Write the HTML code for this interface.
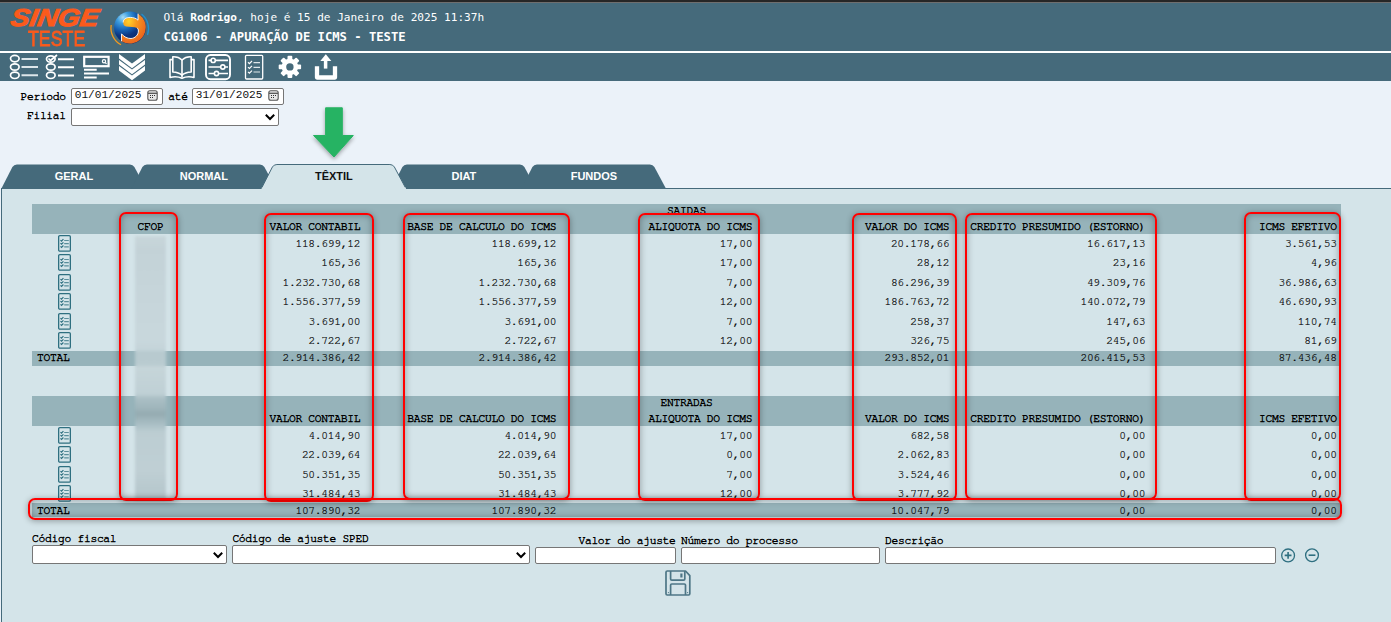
<!DOCTYPE html>
<html lang="pt-BR"><head><meta charset="utf-8"><title>CG1006 - Apuração de ICMS</title>
<style>
html,body{margin:0;padding:0;}
body{width:1391px;height:622px;overflow:hidden;position:relative;background:#ebf2f9;}
.a{position:absolute;}
.t{position:absolute;white-space:pre;}
.r{-webkit-text-stroke:0.2px #000;}
.b{-webkit-text-stroke:0.42px #000;}
.rb{border:2.4px solid #f00;border-radius:7px;box-sizing:border-box;box-shadow:0 1px 6px rgba(0,0,0,.33), inset 0 0 7px rgba(0,0,0,.32);}
</style></head><body>
<div class="a" style="left:0px;top:0px;width:1391px;height:2px;background:#262626"></div>
<div class="a" style="left:0px;top:2px;width:1391px;height:1px;background:#6e6e6e"></div>
<div class="a" style="left:0px;top:3px;width:1391px;height:48px;background:#456a7b"></div>
<div class="a" style="left:0px;top:51px;width:1391px;height:2px;background:#fff"></div>
<div class="a" style="left:0px;top:53px;width:1391px;height:28px;background:#456a7b"></div>
<div class="t" style="left:13px;top:6px;font:italic bold 24.5px/24.5px 'Liberation Sans', Arial, sans-serif;color:#fb5a1c;-webkit-text-stroke:1px #fb5a1c;transform-origin:0 0;transform:scaleX(1.152) skewX(-8deg)">SINGE</div>
<div class="t" style="left:27.5px;top:27.5px;font:normal 22.5px/22.5px 'Liberation Sans', Arial, sans-serif;color:#fb5a1c;-webkit-text-stroke:0.8px #fb5a1c;transform-origin:0 0;transform:scaleX(0.79)">TESTE</div>
<svg class="a" style="left:106px;top:8px" width="46" height="40" viewBox="106 8 46 40">
<defs>
<radialGradient id="gb" cx="0.28" cy="0.18" r="0.85"><stop offset="0" stop-color="#a6dcf6"/><stop offset="0.22" stop-color="#3d9ddf"/><stop offset="0.48" stop-color="#1660b2"/><stop offset="0.68" stop-color="#0d3580"/><stop offset="1" stop-color="#0a2766"/></radialGradient>
<radialGradient id="go" cx="0.3" cy="0.25" r="0.9"><stop offset="0" stop-color="#ffd22c"/><stop offset="0.35" stop-color="#f7991f"/><stop offset="0.8" stop-color="#ec6a1e"/><stop offset="1" stop-color="#e5521b"/></radialGradient>
</defs>
<circle cx="130" cy="27.6" r="16" fill="url(#gb)"/>
<path d="M138 13.7 A16 16 0 1 1 121.5 41.2 L121.5 33.8 C124 37 127.5 38.6 131 38.5 C135 38.3 138.4 35 138.4 31 C138.4 28.6 137 27.6 134.8 27.2 L126.3 26.4 C124.2 26.2 123.2 24.4 123.2 22.4 C123.2 19 126.2 17.4 130.2 17.4 C133.8 17.4 136.6 18.6 138 20.2 Z" fill="url(#go)"/>
<path d="M138 13.7 V20.2 C136.6 18.6 133.8 17.4 130.2 17.4 C126.2 17.4 123.2 19 123.2 22.4 M121.5 41.2 L121.5 33.8 C124 37 127.5 38.6 131 38.5 C135 38.3 138.4 35 138.4 31 C138.4 29.5 138 28.6 137.2 28" fill="none" stroke="#fff" stroke-width="0.9"/>
<path d="M111.2 25 A19 19 0 0 0 121 44.8" fill="none" stroke="#f39a1e" stroke-width="1.3"/>
<path d="M141.5 14 A19 19 0 0 1 147.5 35" fill="none" stroke="#1f8fd0" stroke-width="1.3"/>
</svg>
<div class="t" style="top:11.95px;font:normal 11.1px/11.1px 'DejaVu Sans Mono', 'Liberation Mono', monospace;color:#fff;left:163.5px;">Olá <b>Rodrigo</b>, hoje é 15 de Janeiro de 2025 11:37h</div>
<div class="t" style="top:30.90px;font:bold 12.2px/12.2px 'DejaVu Sans Mono', 'Liberation Mono', monospace;color:#fff;left:163.5px;">CG1006 - APURAÇÃO DE ICMS - TESTE</div>
<svg class="a" style="left:0;top:53px" width="350" height="28" viewBox="0 53 350 28" fill="none" stroke="#fff">
<g stroke-width="1.7">
<ellipse cx="14.8" cy="58.6" rx="4.3" ry="3.2"/><ellipse cx="14.8" cy="67" rx="4.3" ry="3.2"/><ellipse cx="14.8" cy="75.3" rx="4.3" ry="3.2"/>
</g>
<g stroke-width="2" stroke="#dde6ea"><path d="M21.5 58.9H38M21.5 67H38M21.5 75.3H38"/></g>
<g stroke-width="1.7">
<ellipse cx="50.8" cy="59" rx="4.3" ry="3.2"/><ellipse cx="50.8" cy="67" rx="4.3" ry="3.2"/><ellipse cx="50.8" cy="75.3" rx="4.3" ry="3.2"/>
<path d="M48.5 58.5l2 2 6.5-5.5"/>
</g>
<g stroke-width="2"><path d="M58 59.2H74M58 67.2H74M58 75.5H74"/></g>
<rect x="84.2" y="56.8" width="24.4" height="9.4" stroke-width="2.2"/>
<circle cx="104" cy="61.3" r="1.6" stroke-width="1.2"/><path d="M105.2 62.5l1.3 1.3" stroke-width="1.2"/>
<g stroke-width="2"><path d="M84 69.8H96.7M84 73.6H109M84 77.5H96.7"/></g>
<g fill="#fff" stroke="none">
<path d="M119 54L132 63.6L145 54V58.6L132 68.2L119 58.6Z"/>
<path d="M119 60L132 69.6L145 60V64.6L132 74.2L119 64.6Z"/>
<path d="M119 66L132 75.6L145 66V70.6L132 80.2L119 70.6Z"/>
</g>
<!-- book -->
<g stroke-width="1.6" stroke-linejoin="round">
<path d="M182 60 C179.5 57.6 176 56.6 172.8 56.8 V72 C176.5 72.2 179.8 73.2 182 75.2 C184.2 73.2 187.5 72.2 191.2 72 V56.8 C188 56.6 184.5 57.6 182 60 Z"/>
<path d="M182 60 V77.6"/>
<path d="M172.8 59.6 H170 V77.4 C174.5 76.2 178.5 76.6 182 78.2 C185.5 76.6 189.5 76.2 194 77.4 V59.6 H191.2"/>
</g>
<!-- sliders -->
<rect x="206" y="55" width="24" height="24.2" rx="4.5" stroke-width="1.9"/>
<g stroke-width="1.6"><path d="M208.5 60.4H228M208.5 67H228M208.5 73.5H228"/></g>
<g fill="#466a7b" stroke-width="1.6"><circle cx="213.2" cy="60.4" r="2.1"/><circle cx="222.8" cy="67" r="2.1"/><circle cx="216.5" cy="73.5" r="2.1"/></g>
<!-- checklist -->
<rect x="245.5" y="55.3" width="17.2" height="23.7" rx="1" stroke-width="1.3"/>
<g stroke-width="1.2"><path d="M248 62.3l1.4 1.3 2.6-2.6M248 67.1l1.4 1.3 2.6-2.6M248 71.9l1.4 1.3 2.6-2.6"/></g>
<g stroke-width="1.2" stroke="#dfe7ea"><path d="M253.5 62.6H260M253.5 67.3H260M253.5 72H260"/></g>
<!-- gear -->
<g fill="#fff" stroke="none" transform="translate(289.9 66.9)"><rect x="-2.4" y="-11.2" width="4.8" height="6" rx="1" transform="rotate(0)"/><rect x="-2.4" y="-11.2" width="4.8" height="6" rx="1" transform="rotate(45)"/><rect x="-2.4" y="-11.2" width="4.8" height="6" rx="1" transform="rotate(90)"/><rect x="-2.4" y="-11.2" width="4.8" height="6" rx="1" transform="rotate(135)"/><rect x="-2.4" y="-11.2" width="4.8" height="6" rx="1" transform="rotate(180)"/><rect x="-2.4" y="-11.2" width="4.8" height="6" rx="1" transform="rotate(225)"/><rect x="-2.4" y="-11.2" width="4.8" height="6" rx="1" transform="rotate(270)"/><rect x="-2.4" y="-11.2" width="4.8" height="6" rx="1" transform="rotate(315)"/><circle r="8.2"/></g>
<circle cx="289.9" cy="66.9" r="3.7" fill="#466a7b" stroke="none"/>
<!-- upload -->
<path d="M317 66.3 V77.5 H335 V66.3" stroke-width="4.3" stroke-linejoin="round"/>
<path d="M325.6 68.6 V59" stroke-width="3.5"/>
<path fill="#fff" stroke="none" d="M325.8 54.3 L331.3 60.9 H320.3 Z"/>
</svg>
<div class="t b" style="top:90.85px;font:normal 11.3px/11.3px FreeMono, 'Liberation Mono', monospace;color:#000;right:1325.2px;text-align:right;letter-spacing:-0.30px;">Periodo</div>
<div class="t b" style="top:109.85px;font:normal 11.3px/11.3px FreeMono, 'Liberation Mono', monospace;color:#000;right:1325.2px;text-align:right;letter-spacing:-0.30px;">Filial</div>
<div class="t b" style="top:90.85px;font:normal 11.3px/11.3px FreeMono, 'Liberation Mono', monospace;color:#000;left:168.3px;letter-spacing:-0.30px;">até</div>
<div class="a" style="left:71px;top:88px;width:92px;height:17px;background:#fff;border:1px solid #767676;border-radius:2px;box-sizing:border-box"></div>
<div class="t" style="top:90.45px;font:normal 11.1px/11.1px 'Liberation Mono', 'DejaVu Sans Mono', monospace;color:#111;left:74.8px;">01/01/2025</div>
<svg class="a" style="left:146.5px;top:89.5px" width="11" height="11" viewBox="0 0 11 11"><rect x="0.8" y="0.8" width="9.4" height="9.4" rx="2" fill="#e8e8e8" stroke="#555" stroke-width="1.1"/><path d="M1 3.3H10" stroke="#555" stroke-width="1.3"/><g fill="#333"><rect x="3" y="5" width="1" height="1"/><rect x="5" y="5" width="1" height="1"/><rect x="7" y="5" width="1" height="1"/><rect x="3" y="7" width="1" height="1"/><rect x="5" y="7" width="1" height="1"/></g></svg>
<div class="a" style="left:192px;top:88px;width:92px;height:17px;background:#fff;border:1px solid #767676;border-radius:2px;box-sizing:border-box"></div>
<div class="t" style="top:90.45px;font:normal 11.1px/11.1px 'Liberation Mono', 'DejaVu Sans Mono', monospace;color:#111;left:195.8px;">31/01/2025</div>
<svg class="a" style="left:267.5px;top:89.5px" width="11" height="11" viewBox="0 0 11 11"><rect x="0.8" y="0.8" width="9.4" height="9.4" rx="2" fill="#e8e8e8" stroke="#555" stroke-width="1.1"/><path d="M1 3.3H10" stroke="#555" stroke-width="1.3"/><g fill="#333"><rect x="3" y="5" width="1" height="1"/><rect x="5" y="5" width="1" height="1"/><rect x="7" y="5" width="1" height="1"/><rect x="3" y="7" width="1" height="1"/><rect x="5" y="7" width="1" height="1"/></g></svg>
<div class="a" style="left:71px;top:108px;width:208px;height:18px;background:#fff;border:1px solid #767676;border-radius:2px;box-sizing:border-box"></div>
<svg class="a" style="left:263.5px;top:112.0px" width="12" height="10" viewBox="0 0 12 10"><path d="M1.8 2.8L6 7L10.2 2.8" fill="none" stroke="#000" stroke-width="2"/></svg>
<svg class="a" style="left:300px;top:100px" width="70" height="66" viewBox="300 100 70 66">
<defs><filter id="sh" x="-30%" y="-30%" width="160%" height="160%"><feGaussianBlur in="SourceAlpha" stdDeviation="2"/><feOffset dx="0" dy="1.5"/><feComponentTransfer><feFuncA type="linear" slope="0.35"/></feComponentTransfer><feMerge><feMergeNode/><feMergeNode in="SourceGraphic"/></feMerge></filter></defs>
<path filter="url(#sh)" fill="#27b363" stroke="#27b363" stroke-width="1" stroke-linejoin="round" d="M325.6 107.8 H342.3 V135.5 H353.3 L334 157 L313.5 135.5 H325.6 Z"/>
</svg>
<div class="a" style="left:0px;top:188px;width:1391px;height:434px;background:#d4e4e9;border-top:1px solid #456a7b;border-left:1px solid #456a7b;box-sizing:border-box;left:1px;width:1390px"></div>
<svg class="a" style="left:0;top:160px" width="700" height="32" viewBox="0 160 700 32"><path d="M1.4 188.5 L12.4 167 Q13.9 164.5 16.9 164.5 H129.9 Q132.9 164.5 134.4 167 L145.9 188.5 V189 H1.4 Z" fill="#456a7b"/><path d="M131.4 188.5 L142.4 167 Q143.9 164.5 146.9 164.5 H259.9 Q262.9 164.5 264.4 167 L275.9 188.5 V189 H131.4 Z" fill="#456a7b"/><path d="M391.4 188.5 L402.4 167 Q403.9 164.5 406.9 164.5 H519.9 Q522.9 164.5 524.4 167 L535.9 188.5 V189 H391.4 Z" fill="#456a7b"/><path d="M521.4 188.5 L532.4 167 Q533.9 164.5 536.9 164.5 H649.9 Q652.9 164.5 654.4 167 L665.9 188.5 V189 H521.4 Z" fill="#456a7b"/><path d="M261.4 188.5 L272.4 167 Q273.9 164.5 276.9 164.5 H389.9 Q392.9 164.5 394.4 167 L405.9 188.5 V189 H261.4 Z" fill="#d4e4e9"/><path d="M261.4 188.5 L272.4 167 Q273.9 164.5 276.9 164.5 H389.9 Q392.9 164.5 394.4 167 L405.9 188.5" fill="none" stroke="#456a7b" stroke-width="1"/><rect x="261.9" y="187.5" width="144" height="4" fill="#d4e4e9"/></svg>
<div class="t" style="top:170.50px;font:bold 11px/11px 'Liberation Sans', Arial, sans-serif;color:#fff;left:-226.1px;width:600px;text-align:center;">GERAL</div>
<div class="t" style="top:170.50px;font:bold 11px/11px 'Liberation Sans', Arial, sans-serif;color:#fff;left:-96.1px;width:600px;text-align:center;">NORMAL</div>
<div class="t" style="top:170.50px;font:bold 11px/11px 'Liberation Sans', Arial, sans-serif;color:#111;left:33.89999999999998px;width:600px;text-align:center;">TÊXTIL</div>
<div class="t" style="top:170.50px;font:bold 11px/11px 'Liberation Sans', Arial, sans-serif;color:#fff;left:163.89999999999998px;width:600px;text-align:center;">DIAT</div>
<div class="t" style="top:170.50px;font:bold 11px/11px 'Liberation Sans', Arial, sans-serif;color:#fff;left:293.9px;width:600px;text-align:center;">FUNDOS</div>
<div class="a" style="left:32px;top:204px;width:1309px;height:30px;background:#96b3ba"></div>
<div class="t b" style="top:204.85px;font:normal 11.3px/11.3px FreeMono, 'Liberation Mono', monospace;color:#000;left:386.5px;width:600px;text-align:center;letter-spacing:-0.30px;">SAIDAS</div>
<div class="t b" style="top:220.85px;font:normal 11.3px/11.3px FreeMono, 'Liberation Mono', monospace;color:#000;left:-149.5px;width:600px;text-align:center;letter-spacing:-0.30px;">CFOP</div>
<div class="t b" style="top:220.85px;font:normal 11.3px/11.3px FreeMono, 'Liberation Mono', monospace;color:#000;right:1030.8px;text-align:right;letter-spacing:-0.30px;">VALOR CONTABIL</div>
<div class="t b" style="top:220.85px;font:normal 11.3px/11.3px FreeMono, 'Liberation Mono', monospace;color:#000;right:834.8px;text-align:right;letter-spacing:-0.30px;">BASE DE CALCULO DO ICMS</div>
<div class="t b" style="top:220.85px;font:normal 11.3px/11.3px FreeMono, 'Liberation Mono', monospace;color:#000;right:638.8px;text-align:right;letter-spacing:-0.30px;">ALIQUOTA DO ICMS</div>
<div class="t b" style="top:220.85px;font:normal 11.3px/11.3px FreeMono, 'Liberation Mono', monospace;color:#000;right:441.79999999999995px;text-align:right;letter-spacing:-0.30px;">VALOR DO ICMS</div>
<div class="t b" style="top:220.85px;font:normal 11.3px/11.3px FreeMono, 'Liberation Mono', monospace;color:#000;right:245.79999999999995px;text-align:right;letter-spacing:-0.30px;">CREDITO PRESUMIDO (ESTORNO)</div>
<div class="t b" style="top:220.85px;font:normal 11.3px/11.3px FreeMono, 'Liberation Mono', monospace;color:#000;right:54.299999999999955px;text-align:right;letter-spacing:-0.30px;">ICMS EFETIVO</div>
<svg class="a" style="left:57px;top:235px" width="15" height="18" viewBox="0 0 15 18" fill="none"><rect x="1.65" y="0.65" width="11.7" height="15.5" rx="1.2" stroke="#2e6f80" stroke-width="1.3"/><g stroke="#2e6f80" stroke-width="1.2"><path d="M3.5 5.1l1 1 1.9-1.9M3.5 8.2l1 1 1.9-1.9M3.5 11.4l1 1 1.9-1.9"/></g><g stroke="#5a8e9b" stroke-width="1.2"><path d="M7.2 5.5H11.8M7.2 8.6H11.8M7.2 11.8H11.8"/></g></svg>
<div class="t r" style="top:237.85px;font:normal 11.3px/11.3px FreeMono, 'Liberation Mono', monospace;color:#000;right:1030.8px;text-align:right;letter-spacing:-0.30px;">118.699,12</div>
<div class="t r" style="top:237.85px;font:normal 11.3px/11.3px FreeMono, 'Liberation Mono', monospace;color:#000;right:834.8px;text-align:right;letter-spacing:-0.30px;">118.699,12</div>
<div class="t r" style="top:237.85px;font:normal 11.3px/11.3px FreeMono, 'Liberation Mono', monospace;color:#000;right:638.8px;text-align:right;letter-spacing:-0.30px;">17,00</div>
<div class="t r" style="top:237.85px;font:normal 11.3px/11.3px FreeMono, 'Liberation Mono', monospace;color:#000;right:441.79999999999995px;text-align:right;letter-spacing:-0.30px;">20.178,66</div>
<div class="t r" style="top:237.85px;font:normal 11.3px/11.3px FreeMono, 'Liberation Mono', monospace;color:#000;right:245.79999999999995px;text-align:right;letter-spacing:-0.30px;">16.617,13</div>
<div class="t r" style="top:237.85px;font:normal 11.3px/11.3px FreeMono, 'Liberation Mono', monospace;color:#000;right:54.299999999999955px;text-align:right;letter-spacing:-0.30px;">3.561,53</div>
<svg class="a" style="left:57px;top:254px" width="15" height="18" viewBox="0 0 15 18" fill="none"><rect x="1.65" y="0.65" width="11.7" height="15.5" rx="1.2" stroke="#2e6f80" stroke-width="1.3"/><g stroke="#2e6f80" stroke-width="1.2"><path d="M3.5 5.1l1 1 1.9-1.9M3.5 8.2l1 1 1.9-1.9M3.5 11.4l1 1 1.9-1.9"/></g><g stroke="#5a8e9b" stroke-width="1.2"><path d="M7.2 5.5H11.8M7.2 8.6H11.8M7.2 11.8H11.8"/></g></svg>
<div class="t r" style="top:257.35px;font:normal 11.3px/11.3px FreeMono, 'Liberation Mono', monospace;color:#000;right:1030.8px;text-align:right;letter-spacing:-0.30px;">165,36</div>
<div class="t r" style="top:257.35px;font:normal 11.3px/11.3px FreeMono, 'Liberation Mono', monospace;color:#000;right:834.8px;text-align:right;letter-spacing:-0.30px;">165,36</div>
<div class="t r" style="top:257.35px;font:normal 11.3px/11.3px FreeMono, 'Liberation Mono', monospace;color:#000;right:638.8px;text-align:right;letter-spacing:-0.30px;">17,00</div>
<div class="t r" style="top:257.35px;font:normal 11.3px/11.3px FreeMono, 'Liberation Mono', monospace;color:#000;right:441.79999999999995px;text-align:right;letter-spacing:-0.30px;">28,12</div>
<div class="t r" style="top:257.35px;font:normal 11.3px/11.3px FreeMono, 'Liberation Mono', monospace;color:#000;right:245.79999999999995px;text-align:right;letter-spacing:-0.30px;">23,16</div>
<div class="t r" style="top:257.35px;font:normal 11.3px/11.3px FreeMono, 'Liberation Mono', monospace;color:#000;right:54.299999999999955px;text-align:right;letter-spacing:-0.30px;">4,96</div>
<svg class="a" style="left:57px;top:274px" width="15" height="18" viewBox="0 0 15 18" fill="none"><rect x="1.65" y="0.65" width="11.7" height="15.5" rx="1.2" stroke="#2e6f80" stroke-width="1.3"/><g stroke="#2e6f80" stroke-width="1.2"><path d="M3.5 5.1l1 1 1.9-1.9M3.5 8.2l1 1 1.9-1.9M3.5 11.4l1 1 1.9-1.9"/></g><g stroke="#5a8e9b" stroke-width="1.2"><path d="M7.2 5.5H11.8M7.2 8.6H11.8M7.2 11.8H11.8"/></g></svg>
<div class="t r" style="top:276.85px;font:normal 11.3px/11.3px FreeMono, 'Liberation Mono', monospace;color:#000;right:1030.8px;text-align:right;letter-spacing:-0.30px;">1.232.730,68</div>
<div class="t r" style="top:276.85px;font:normal 11.3px/11.3px FreeMono, 'Liberation Mono', monospace;color:#000;right:834.8px;text-align:right;letter-spacing:-0.30px;">1.232.730,68</div>
<div class="t r" style="top:276.85px;font:normal 11.3px/11.3px FreeMono, 'Liberation Mono', monospace;color:#000;right:638.8px;text-align:right;letter-spacing:-0.30px;">7,00</div>
<div class="t r" style="top:276.85px;font:normal 11.3px/11.3px FreeMono, 'Liberation Mono', monospace;color:#000;right:441.79999999999995px;text-align:right;letter-spacing:-0.30px;">86.296,39</div>
<div class="t r" style="top:276.85px;font:normal 11.3px/11.3px FreeMono, 'Liberation Mono', monospace;color:#000;right:245.79999999999995px;text-align:right;letter-spacing:-0.30px;">49.309,76</div>
<div class="t r" style="top:276.85px;font:normal 11.3px/11.3px FreeMono, 'Liberation Mono', monospace;color:#000;right:54.299999999999955px;text-align:right;letter-spacing:-0.30px;">36.986,63</div>
<svg class="a" style="left:57px;top:293px" width="15" height="18" viewBox="0 0 15 18" fill="none"><rect x="1.65" y="0.65" width="11.7" height="15.5" rx="1.2" stroke="#2e6f80" stroke-width="1.3"/><g stroke="#2e6f80" stroke-width="1.2"><path d="M3.5 5.1l1 1 1.9-1.9M3.5 8.2l1 1 1.9-1.9M3.5 11.4l1 1 1.9-1.9"/></g><g stroke="#5a8e9b" stroke-width="1.2"><path d="M7.2 5.5H11.8M7.2 8.6H11.8M7.2 11.8H11.8"/></g></svg>
<div class="t r" style="top:296.35px;font:normal 11.3px/11.3px FreeMono, 'Liberation Mono', monospace;color:#000;right:1030.8px;text-align:right;letter-spacing:-0.30px;">1.556.377,59</div>
<div class="t r" style="top:296.35px;font:normal 11.3px/11.3px FreeMono, 'Liberation Mono', monospace;color:#000;right:834.8px;text-align:right;letter-spacing:-0.30px;">1.556.377,59</div>
<div class="t r" style="top:296.35px;font:normal 11.3px/11.3px FreeMono, 'Liberation Mono', monospace;color:#000;right:638.8px;text-align:right;letter-spacing:-0.30px;">12,00</div>
<div class="t r" style="top:296.35px;font:normal 11.3px/11.3px FreeMono, 'Liberation Mono', monospace;color:#000;right:441.79999999999995px;text-align:right;letter-spacing:-0.30px;">186.763,72</div>
<div class="t r" style="top:296.35px;font:normal 11.3px/11.3px FreeMono, 'Liberation Mono', monospace;color:#000;right:245.79999999999995px;text-align:right;letter-spacing:-0.30px;">140.072,79</div>
<div class="t r" style="top:296.35px;font:normal 11.3px/11.3px FreeMono, 'Liberation Mono', monospace;color:#000;right:54.299999999999955px;text-align:right;letter-spacing:-0.30px;">46.690,93</div>
<svg class="a" style="left:57px;top:313px" width="15" height="18" viewBox="0 0 15 18" fill="none"><rect x="1.65" y="0.65" width="11.7" height="15.5" rx="1.2" stroke="#2e6f80" stroke-width="1.3"/><g stroke="#2e6f80" stroke-width="1.2"><path d="M3.5 5.1l1 1 1.9-1.9M3.5 8.2l1 1 1.9-1.9M3.5 11.4l1 1 1.9-1.9"/></g><g stroke="#5a8e9b" stroke-width="1.2"><path d="M7.2 5.5H11.8M7.2 8.6H11.8M7.2 11.8H11.8"/></g></svg>
<div class="t r" style="top:315.85px;font:normal 11.3px/11.3px FreeMono, 'Liberation Mono', monospace;color:#000;right:1030.8px;text-align:right;letter-spacing:-0.30px;">3.691,00</div>
<div class="t r" style="top:315.85px;font:normal 11.3px/11.3px FreeMono, 'Liberation Mono', monospace;color:#000;right:834.8px;text-align:right;letter-spacing:-0.30px;">3.691,00</div>
<div class="t r" style="top:315.85px;font:normal 11.3px/11.3px FreeMono, 'Liberation Mono', monospace;color:#000;right:638.8px;text-align:right;letter-spacing:-0.30px;">7,00</div>
<div class="t r" style="top:315.85px;font:normal 11.3px/11.3px FreeMono, 'Liberation Mono', monospace;color:#000;right:441.79999999999995px;text-align:right;letter-spacing:-0.30px;">258,37</div>
<div class="t r" style="top:315.85px;font:normal 11.3px/11.3px FreeMono, 'Liberation Mono', monospace;color:#000;right:245.79999999999995px;text-align:right;letter-spacing:-0.30px;">147,63</div>
<div class="t r" style="top:315.85px;font:normal 11.3px/11.3px FreeMono, 'Liberation Mono', monospace;color:#000;right:54.299999999999955px;text-align:right;letter-spacing:-0.30px;">110,74</div>
<svg class="a" style="left:57px;top:332px" width="15" height="18" viewBox="0 0 15 18" fill="none"><rect x="1.65" y="0.65" width="11.7" height="15.5" rx="1.2" stroke="#2e6f80" stroke-width="1.3"/><g stroke="#2e6f80" stroke-width="1.2"><path d="M3.5 5.1l1 1 1.9-1.9M3.5 8.2l1 1 1.9-1.9M3.5 11.4l1 1 1.9-1.9"/></g><g stroke="#5a8e9b" stroke-width="1.2"><path d="M7.2 5.5H11.8M7.2 8.6H11.8M7.2 11.8H11.8"/></g></svg>
<div class="t r" style="top:335.35px;font:normal 11.3px/11.3px FreeMono, 'Liberation Mono', monospace;color:#000;right:1030.8px;text-align:right;letter-spacing:-0.30px;">2.722,67</div>
<div class="t r" style="top:335.35px;font:normal 11.3px/11.3px FreeMono, 'Liberation Mono', monospace;color:#000;right:834.8px;text-align:right;letter-spacing:-0.30px;">2.722,67</div>
<div class="t r" style="top:335.35px;font:normal 11.3px/11.3px FreeMono, 'Liberation Mono', monospace;color:#000;right:638.8px;text-align:right;letter-spacing:-0.30px;">12,00</div>
<div class="t r" style="top:335.35px;font:normal 11.3px/11.3px FreeMono, 'Liberation Mono', monospace;color:#000;right:441.79999999999995px;text-align:right;letter-spacing:-0.30px;">326,75</div>
<div class="t r" style="top:335.35px;font:normal 11.3px/11.3px FreeMono, 'Liberation Mono', monospace;color:#000;right:245.79999999999995px;text-align:right;letter-spacing:-0.30px;">245,06</div>
<div class="t r" style="top:335.35px;font:normal 11.3px/11.3px FreeMono, 'Liberation Mono', monospace;color:#000;right:54.299999999999955px;text-align:right;letter-spacing:-0.30px;">81,69</div>
<div class="a" style="left:32px;top:351px;width:1309px;height:15px;background:#96b3ba"></div>
<div class="t b" style="top:351.85px;font:normal 11.3px/11.3px FreeMono, 'Liberation Mono', monospace;color:#000;left:37px;letter-spacing:-0.30px;">TOTAL</div>
<div class="t r" style="top:351.85px;font:normal 11.3px/11.3px FreeMono, 'Liberation Mono', monospace;color:#000;right:1030.8px;text-align:right;letter-spacing:-0.30px;">2.914.386,42</div>
<div class="t r" style="top:351.85px;font:normal 11.3px/11.3px FreeMono, 'Liberation Mono', monospace;color:#000;right:834.8px;text-align:right;letter-spacing:-0.30px;">2.914.386,42</div>
<div class="t r" style="top:351.85px;font:normal 11.3px/11.3px FreeMono, 'Liberation Mono', monospace;color:#000;right:441.79999999999995px;text-align:right;letter-spacing:-0.30px;">293.852,01</div>
<div class="t r" style="top:351.85px;font:normal 11.3px/11.3px FreeMono, 'Liberation Mono', monospace;color:#000;right:245.79999999999995px;text-align:right;letter-spacing:-0.30px;">206.415,53</div>
<div class="t r" style="top:351.85px;font:normal 11.3px/11.3px FreeMono, 'Liberation Mono', monospace;color:#000;right:54.299999999999955px;text-align:right;letter-spacing:-0.30px;">87.436,48</div>
<div class="a" style="left:32px;top:396px;width:1309px;height:30px;background:#96b3ba"></div>
<div class="t b" style="top:396.85px;font:normal 11.3px/11.3px FreeMono, 'Liberation Mono', monospace;color:#000;left:386.5px;width:600px;text-align:center;letter-spacing:-0.30px;">ENTRADAS</div>
<div class="t b" style="top:412.85px;font:normal 11.3px/11.3px FreeMono, 'Liberation Mono', monospace;color:#000;left:-149.5px;width:600px;text-align:center;letter-spacing:-0.30px;">CFOP</div>
<div class="t b" style="top:412.85px;font:normal 11.3px/11.3px FreeMono, 'Liberation Mono', monospace;color:#000;right:1030.8px;text-align:right;letter-spacing:-0.30px;">VALOR CONTABIL</div>
<div class="t b" style="top:412.85px;font:normal 11.3px/11.3px FreeMono, 'Liberation Mono', monospace;color:#000;right:834.8px;text-align:right;letter-spacing:-0.30px;">BASE DE CALCULO DO ICMS</div>
<div class="t b" style="top:412.85px;font:normal 11.3px/11.3px FreeMono, 'Liberation Mono', monospace;color:#000;right:638.8px;text-align:right;letter-spacing:-0.30px;">ALIQUOTA DO ICMS</div>
<div class="t b" style="top:412.85px;font:normal 11.3px/11.3px FreeMono, 'Liberation Mono', monospace;color:#000;right:441.79999999999995px;text-align:right;letter-spacing:-0.30px;">VALOR DO ICMS</div>
<div class="t b" style="top:412.85px;font:normal 11.3px/11.3px FreeMono, 'Liberation Mono', monospace;color:#000;right:245.79999999999995px;text-align:right;letter-spacing:-0.30px;">CREDITO PRESUMIDO (ESTORNO)</div>
<div class="t b" style="top:412.85px;font:normal 11.3px/11.3px FreeMono, 'Liberation Mono', monospace;color:#000;right:54.299999999999955px;text-align:right;letter-spacing:-0.30px;">ICMS EFETIVO</div>
<svg class="a" style="left:57px;top:427px" width="15" height="18" viewBox="0 0 15 18" fill="none"><rect x="1.65" y="0.65" width="11.7" height="15.5" rx="1.2" stroke="#2e6f80" stroke-width="1.3"/><g stroke="#2e6f80" stroke-width="1.2"><path d="M3.5 5.1l1 1 1.9-1.9M3.5 8.2l1 1 1.9-1.9M3.5 11.4l1 1 1.9-1.9"/></g><g stroke="#5a8e9b" stroke-width="1.2"><path d="M7.2 5.5H11.8M7.2 8.6H11.8M7.2 11.8H11.8"/></g></svg>
<div class="t r" style="top:429.85px;font:normal 11.3px/11.3px FreeMono, 'Liberation Mono', monospace;color:#000;right:1030.8px;text-align:right;letter-spacing:-0.30px;">4.014,90</div>
<div class="t r" style="top:429.85px;font:normal 11.3px/11.3px FreeMono, 'Liberation Mono', monospace;color:#000;right:834.8px;text-align:right;letter-spacing:-0.30px;">4.014,90</div>
<div class="t r" style="top:429.85px;font:normal 11.3px/11.3px FreeMono, 'Liberation Mono', monospace;color:#000;right:638.8px;text-align:right;letter-spacing:-0.30px;">17,00</div>
<div class="t r" style="top:429.85px;font:normal 11.3px/11.3px FreeMono, 'Liberation Mono', monospace;color:#000;right:441.79999999999995px;text-align:right;letter-spacing:-0.30px;">682,58</div>
<div class="t r" style="top:429.85px;font:normal 11.3px/11.3px FreeMono, 'Liberation Mono', monospace;color:#000;right:245.79999999999995px;text-align:right;letter-spacing:-0.30px;">0,00</div>
<div class="t r" style="top:429.85px;font:normal 11.3px/11.3px FreeMono, 'Liberation Mono', monospace;color:#000;right:54.299999999999955px;text-align:right;letter-spacing:-0.30px;">0,00</div>
<svg class="a" style="left:57px;top:446px" width="15" height="18" viewBox="0 0 15 18" fill="none"><rect x="1.65" y="0.65" width="11.7" height="15.5" rx="1.2" stroke="#2e6f80" stroke-width="1.3"/><g stroke="#2e6f80" stroke-width="1.2"><path d="M3.5 5.1l1 1 1.9-1.9M3.5 8.2l1 1 1.9-1.9M3.5 11.4l1 1 1.9-1.9"/></g><g stroke="#5a8e9b" stroke-width="1.2"><path d="M7.2 5.5H11.8M7.2 8.6H11.8M7.2 11.8H11.8"/></g></svg>
<div class="t r" style="top:449.25px;font:normal 11.3px/11.3px FreeMono, 'Liberation Mono', monospace;color:#000;right:1030.8px;text-align:right;letter-spacing:-0.30px;">22.039,64</div>
<div class="t r" style="top:449.25px;font:normal 11.3px/11.3px FreeMono, 'Liberation Mono', monospace;color:#000;right:834.8px;text-align:right;letter-spacing:-0.30px;">22.039,64</div>
<div class="t r" style="top:449.25px;font:normal 11.3px/11.3px FreeMono, 'Liberation Mono', monospace;color:#000;right:638.8px;text-align:right;letter-spacing:-0.30px;">0,00</div>
<div class="t r" style="top:449.25px;font:normal 11.3px/11.3px FreeMono, 'Liberation Mono', monospace;color:#000;right:441.79999999999995px;text-align:right;letter-spacing:-0.30px;">2.062,83</div>
<div class="t r" style="top:449.25px;font:normal 11.3px/11.3px FreeMono, 'Liberation Mono', monospace;color:#000;right:245.79999999999995px;text-align:right;letter-spacing:-0.30px;">0,00</div>
<div class="t r" style="top:449.25px;font:normal 11.3px/11.3px FreeMono, 'Liberation Mono', monospace;color:#000;right:54.299999999999955px;text-align:right;letter-spacing:-0.30px;">0,00</div>
<svg class="a" style="left:57px;top:466px" width="15" height="18" viewBox="0 0 15 18" fill="none"><rect x="1.65" y="0.65" width="11.7" height="15.5" rx="1.2" stroke="#2e6f80" stroke-width="1.3"/><g stroke="#2e6f80" stroke-width="1.2"><path d="M3.5 5.1l1 1 1.9-1.9M3.5 8.2l1 1 1.9-1.9M3.5 11.4l1 1 1.9-1.9"/></g><g stroke="#5a8e9b" stroke-width="1.2"><path d="M7.2 5.5H11.8M7.2 8.6H11.8M7.2 11.8H11.8"/></g></svg>
<div class="t r" style="top:468.65px;font:normal 11.3px/11.3px FreeMono, 'Liberation Mono', monospace;color:#000;right:1030.8px;text-align:right;letter-spacing:-0.30px;">50.351,35</div>
<div class="t r" style="top:468.65px;font:normal 11.3px/11.3px FreeMono, 'Liberation Mono', monospace;color:#000;right:834.8px;text-align:right;letter-spacing:-0.30px;">50.351,35</div>
<div class="t r" style="top:468.65px;font:normal 11.3px/11.3px FreeMono, 'Liberation Mono', monospace;color:#000;right:638.8px;text-align:right;letter-spacing:-0.30px;">7,00</div>
<div class="t r" style="top:468.65px;font:normal 11.3px/11.3px FreeMono, 'Liberation Mono', monospace;color:#000;right:441.79999999999995px;text-align:right;letter-spacing:-0.30px;">3.524,46</div>
<div class="t r" style="top:468.65px;font:normal 11.3px/11.3px FreeMono, 'Liberation Mono', monospace;color:#000;right:245.79999999999995px;text-align:right;letter-spacing:-0.30px;">0,00</div>
<div class="t r" style="top:468.65px;font:normal 11.3px/11.3px FreeMono, 'Liberation Mono', monospace;color:#000;right:54.299999999999955px;text-align:right;letter-spacing:-0.30px;">0,00</div>
<svg class="a" style="left:57px;top:485px" width="15" height="18" viewBox="0 0 15 18" fill="none"><rect x="1.65" y="0.65" width="11.7" height="15.5" rx="1.2" stroke="#2e6f80" stroke-width="1.3"/><g stroke="#2e6f80" stroke-width="1.2"><path d="M3.5 5.1l1 1 1.9-1.9M3.5 8.2l1 1 1.9-1.9M3.5 11.4l1 1 1.9-1.9"/></g><g stroke="#5a8e9b" stroke-width="1.2"><path d="M7.2 5.5H11.8M7.2 8.6H11.8M7.2 11.8H11.8"/></g></svg>
<div class="t r" style="top:488.05px;font:normal 11.3px/11.3px FreeMono, 'Liberation Mono', monospace;color:#000;right:1030.8px;text-align:right;letter-spacing:-0.30px;">31.484,43</div>
<div class="t r" style="top:488.05px;font:normal 11.3px/11.3px FreeMono, 'Liberation Mono', monospace;color:#000;right:834.8px;text-align:right;letter-spacing:-0.30px;">31.484,43</div>
<div class="t r" style="top:488.05px;font:normal 11.3px/11.3px FreeMono, 'Liberation Mono', monospace;color:#000;right:638.8px;text-align:right;letter-spacing:-0.30px;">12,00</div>
<div class="t r" style="top:488.05px;font:normal 11.3px/11.3px FreeMono, 'Liberation Mono', monospace;color:#000;right:441.79999999999995px;text-align:right;letter-spacing:-0.30px;">3.777,92</div>
<div class="t r" style="top:488.05px;font:normal 11.3px/11.3px FreeMono, 'Liberation Mono', monospace;color:#000;right:245.79999999999995px;text-align:right;letter-spacing:-0.30px;">0,00</div>
<div class="t r" style="top:488.05px;font:normal 11.3px/11.3px FreeMono, 'Liberation Mono', monospace;color:#000;right:54.299999999999955px;text-align:right;letter-spacing:-0.30px;">0,00</div>
<div class="a" style="left:32px;top:503px;width:1309px;height:14px;background:#96b3ba"></div>
<div class="t b" style="top:504.85px;font:normal 11.3px/11.3px FreeMono, 'Liberation Mono', monospace;color:#000;left:37px;letter-spacing:-0.30px;">TOTAL</div>
<div class="t r" style="top:504.85px;font:normal 11.3px/11.3px FreeMono, 'Liberation Mono', monospace;color:#000;right:1030.8px;text-align:right;letter-spacing:-0.30px;">107.890,32</div>
<div class="t r" style="top:504.85px;font:normal 11.3px/11.3px FreeMono, 'Liberation Mono', monospace;color:#000;right:834.8px;text-align:right;letter-spacing:-0.30px;">107.890,32</div>
<div class="t r" style="top:504.85px;font:normal 11.3px/11.3px FreeMono, 'Liberation Mono', monospace;color:#000;right:441.79999999999995px;text-align:right;letter-spacing:-0.30px;">10.047,79</div>
<div class="t r" style="top:504.85px;font:normal 11.3px/11.3px FreeMono, 'Liberation Mono', monospace;color:#000;right:245.79999999999995px;text-align:right;letter-spacing:-0.30px;">0,00</div>
<div class="t r" style="top:504.85px;font:normal 11.3px/11.3px FreeMono, 'Liberation Mono', monospace;color:#000;right:54.299999999999955px;text-align:right;letter-spacing:-0.30px;">0,00</div>
<div class="a" style="left:135px;top:236px;width:31px;height:265px;background:linear-gradient(180deg,#c8d6da 0px,#c3d2d7 14px,#c6d5da 60px,#c8d7dc 104px,#c4d4d9 114px,#b7c9ce 116px,#b9cbd0 129px,#c6d5d9 131px,#bfd0d5 158px,#abbfc5 162px,#9fb5bb 172px,#94abb1 178px,#a9bec4 188px,#bccdd2 196px,#bfcfd4 234px,#b7c8cd 255px,#bdcdd2 265px);filter:blur(1.5px)"></div>
<div class="a rb" style="left:118.6px;top:212.4px;width:59.0px;height:288.6px"></div>
<div class="a rb" style="left:263.9px;top:212.5px;width:109.80000000000001px;height:289.0px"></div>
<div class="a rb" style="left:402.8px;top:212.5px;width:167.49999999999994px;height:287.0px"></div>
<div class="a rb" style="left:637.9px;top:212.6px;width:122.39999999999998px;height:288.9px"></div>
<div class="a rb" style="left:851.5px;top:212.6px;width:105.70000000000005px;height:288.9px"></div>
<div class="a rb" style="left:964.8px;top:212.6px;width:191.9000000000001px;height:287.4px"></div>
<div class="a rb" style="left:1243.6px;top:212.3px;width:97.10000000000014px;height:289.0px"></div>
<div class="a rb" style="left:27.6px;top:498.4px;width:1314.4px;height:21.200000000000045px"></div>
<div class="t b" style="top:532.85px;font:normal 11.3px/11.3px FreeMono, 'Liberation Mono', monospace;color:#000;left:32.1px;letter-spacing:-0.30px;">Código fiscal</div>
<div class="t b" style="top:532.85px;font:normal 11.3px/11.3px FreeMono, 'Liberation Mono', monospace;color:#000;left:232.4px;letter-spacing:-0.30px;">Código de ajuste SPED</div>
<div class="t b" style="top:534.85px;font:normal 11.3px/11.3px FreeMono, 'Liberation Mono', monospace;color:#000;right:715.4px;text-align:right;letter-spacing:-0.30px;">Valor do ajuste</div>
<div class="t b" style="top:534.85px;font:normal 11.3px/11.3px FreeMono, 'Liberation Mono', monospace;color:#000;left:681px;letter-spacing:-0.30px;">Número do processo</div>
<div class="t b" style="top:534.85px;font:normal 11.3px/11.3px FreeMono, 'Liberation Mono', monospace;color:#000;left:885px;letter-spacing:-0.30px;">Descrição</div>
<div class="a" style="left:32px;top:545px;width:195px;height:19px;background:#fff;border:1px solid #767676;border-radius:2px;box-sizing:border-box"></div>
<svg class="a" style="left:211.5px;top:549.5px" width="12" height="10" viewBox="0 0 12 10"><path d="M1.8 2.8L6 7L10.2 2.8" fill="none" stroke="#000" stroke-width="2"/></svg>
<div class="a" style="left:232.3px;top:545px;width:297.7px;height:19px;background:#fff;border:1px solid #767676;border-radius:2px;box-sizing:border-box"></div>
<svg class="a" style="left:514.5px;top:549.5px" width="12" height="10" viewBox="0 0 12 10"><path d="M1.8 2.8L6 7L10.2 2.8" fill="none" stroke="#000" stroke-width="2"/></svg>
<div class="a" style="left:535.2px;top:547px;width:140.5px;height:16.8px;background:#fff;border:1px solid #767676;border-radius:2px;box-sizing:border-box"></div>
<div class="a" style="left:681.3px;top:547px;width:198.60000000000002px;height:16.8px;background:#fff;border:1px solid #767676;border-radius:2px;box-sizing:border-box"></div>
<div class="a" style="left:885px;top:547px;width:390.79999999999995px;height:16.8px;background:#fff;border:1px solid #767676;border-radius:2px;box-sizing:border-box"></div>
<svg class="a" style="left:1278px;top:545px" width="45" height="21" viewBox="1278 545 45 21" fill="none" stroke="#2e6f80" stroke-width="1.3">
<circle cx="1288.1" cy="555.4" r="6.4"/><path d="M1288.1 552V558.8M1284.7 555.4H1291.5" stroke-width="1.6"/>
<circle cx="1312" cy="555.2" r="6.4"/><path d="M1308.6 555.2H1315.4" stroke-width="1.6"/>
</svg>
<svg class="a" style="left:664px;top:569px" width="28" height="28" viewBox="664 569 28 28" fill="none" stroke="#4d7686" stroke-width="1.7" stroke-linejoin="round">
<path d="M667 571 H685.5 L689.8 575.6 V593.8 Q689.8 595 688.6 595 H667.2 Q666 595 666 593.8 V572.2 Q666 571 667.2 571 Z"/>
<path d="M670.6 571 V579 Q670.6 580.2 671.8 580.2 H683.6 Q684.8 580.2 684.8 579 V571"/>
<rect x="680.3" y="573.5" width="2.2" height="4" fill="#4d7686" stroke="none"/>
<path d="M670.6 595 V585 Q670.6 584 671.8 584 H684.3 Q685.5 584 685.5 585 V595"/>
<circle cx="668.4" cy="592.6" r="0.6" fill="#4d7686" stroke="none"/><circle cx="687.6" cy="592.6" r="0.6" fill="#4d7686" stroke="none"/>
</svg>
</body></html>
